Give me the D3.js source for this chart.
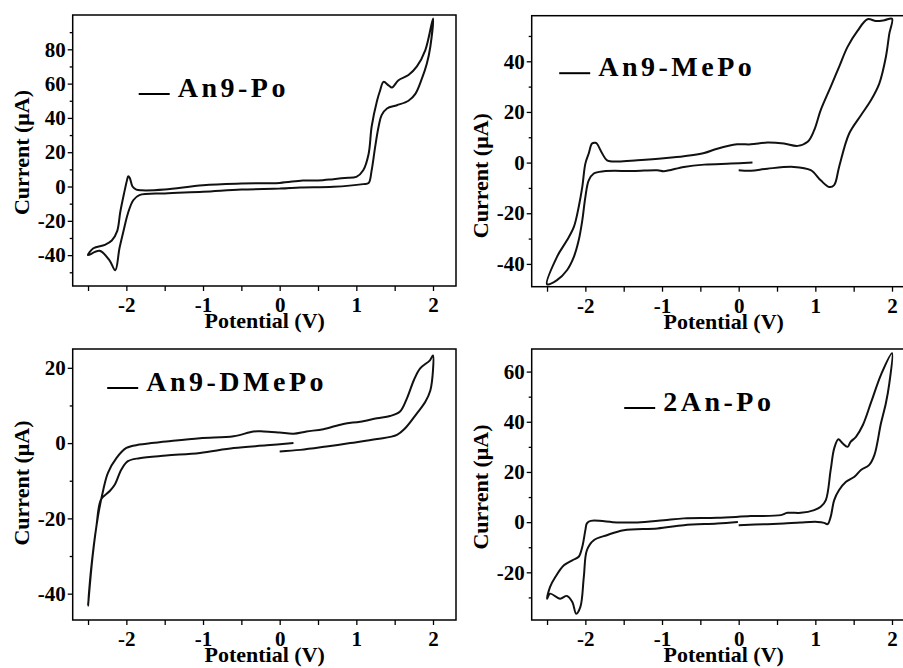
<!DOCTYPE html>
<html>
<head>
<meta charset="utf-8">
<script src="https://cdnjs.cloudflare.com/ajax/libs/d3/7.8.5/d3.min.js"></script>
<style>
  body { margin: 0; background: #fff; }
  svg { display: block; }
  .tick text { font-family: "Liberation Serif", "Times New Roman", serif; font-weight: bold; font-size: 21px; fill: #000; }
  .axisText { font-family: "Liberation Serif", "Times New Roman", serif; font-weight: bold; font-size: 22px; fill: #000; }
  .legendText { font-family: "Liberation Serif", "Times New Roman", serif; font-weight: bold; font-size: 28px; letter-spacing: 3.5px; fill: #000; }
</style>
</head>
<body>
<div id="chart"></div>
<script>
// ---- data (scan order: potential in V, current in uA) ----
var xTicks = [-2.5, -2, -1.5, -1, -0.5, 0, 0.5, 1, 1.5, 2];
var xLabels = [-2, -1, 0, 1, 2];

// An9-Po
var an9PoV = [0.15, 0, -0.5, -1, -1.5, -1.83, -1.91, -1.98, -2.035, -2.09, -2.145, -2.22, -2.35, -2.5,
  -2.43, -2.28, -2.19, -2.12, -2.08, -2.03, -1.99, -1.975, -1.955, -1.92, -1.87, -1.8, -1.5, -1, -0.5, 0, 0.3, 0.5, 0.7, 0.85, 1.0,
  1.09, 1.16, 1.2, 1.27, 1.31, 1.355, 1.42, 1.465, 1.55, 1.68, 1.79, 1.9, 2.0,
  1.965, 1.92, 1.856, 1.77, 1.68, 1.53, 1.4, 1.33, 1.29, 1.245, 1.2, 1.16, 1.09, 0.7, 0.27, 0.0];
var an9PoI = [-0.8, -1.2, -1.8, -3.1, -4, -5, -8, -15.7, -25.5, -36, -48.8, -43, -37.5, -40,
  -36, -34, -31.5, -26, -15, -4, 4, 6, 5, 0, -1.8, -2.2, -1.75, 0.8, 1.75, 2.1, 3.5, 3.5, 4.3, 5, 5.6,
  9.5, 19, 35, 50, 56, 61, 59, 57.7, 62, 65, 70, 79.5, 98,
  81.5, 71.7, 63, 54, 50, 47.4, 45.5, 41.6, 34.8, 23, 9.5, 2, 1.4, -0.2, -0.6, -1.2];
var an9PoTicks = [-50, -40, -30, -20, -10, 0, 10, 20, 30, 40, 50, 60, 70, 80, 90];

// An9-MePo
var an9MePoV = [0, 0.16, 0.375, 0.72, 0.94, 1.07, 1.18, 1.245, 1.31, 1.44, 1.595, 1.725, 1.834, 1.92, 1.965, 2.0,
  1.9, 1.79, 1.68, 1.55, 1.42, 1.31, 1.2, 1.07, 0.985, 0.9, 0.77, 0.59, 0.375, 0.157, -0.02, -0.28, -0.45, -0.715, -0.976,
  -1.32, -1.586, -1.717, -1.78, -1.85, -1.87, -1.913, -1.956, -2.0, -2.04, -2.087, -2.15, -2.24, -2.37, -2.5,
  -2.37, -2.24, -2.15, -2.087, -2.04, -2.0, -1.956, -1.89, -1.76, -1.37, -1.06, -0.976, -0.715, -0.45, -0.1, 0.18];
var an9MePoI = [-3, -3.2, -2.4, -1.7, -3, -7, -9.6, -8.9, -1.7, 11.4, 18.7, 24.6, 31.2, 41.7, 50.9, 56.8,
  56.2, 55.9, 56.6, 52, 45.7, 37.8, 29.9, 20.7, 12.8, 8.2, 6.6, 7.5, 7.9, 7.2, 7.2, 5.5, 3.8, 2.5, 1.7,
  0.9, 0.4, 0.9, 3.6, 7.5, 7.8, 7.5, 3.6, -0.4, -9.6, -17.5, -25.4, -30.7, -37.2, -48,
  -46.4, -42.5, -37.2, -30.7, -22.8, -13.6, -7, -4.3, -3.4, -3.3, -3, -3.4, -1.7, -0.8, -0.4, 0];
var an9MePoTicks = [-40, -30, -20, -10, 0, 10, 20, 30, 40, 50];

// An9-DMePo
var an9DMePoV = [0, 0.27, 0.61, 0.92, 1.27, 1.53, 1.64, 1.79, 1.9, 1.965, 2.0, 2.0,
  1.96, 1.83, 1.75, 1.66, 1.57, 1.44, 1.27, 1.05, 0.83, 0.57, 0.35, 0.18, 0, -0.21, -0.34, -0.6, -1.04, -1.48, -1.83,
  -2.0, -2.13, -2.24, -2.3, -2.37, -2.44, -2.5,
  -2.46, -2.39, -2.33, -2.22, -2.15, -2.065, -1.98, -1.83, -1.48, -1.04, -0.6, -0.17, 0.18];
var an9DMePoI = [-2.2, -1.8, -0.9, 0, 1.06, 2.2, 4, 7.9, 11, 14, 19.4, 23.3,
  22, 19.8, 16.7, 11.9, 8.4, 7.2, 6.6, 5.7, 5.1, 3.7, 3.1, 2.5, 2.8, 3.1, 3.1, 1.8, 1.3, 0.4, -0.4,
  -1.3, -4, -7.9, -12.3, -19.4, -30, -43.2,
  -33.5, -22, -15, -12.8, -11, -7, -4.8, -4, -3.3, -2.6, -1.3, -0.6, 0];
var an9DMePoTicks = [-40, -30, -20, -10, 0, 10, 20];

// 2An-Po
var twoAnPoV = [0, 0.375, 0.59, 0.81, 1.03, 1.115, 1.16, 1.2, 1.246, 1.31, 1.4, 1.51, 1.595, 1.7, 1.77, 1.856, 1.92, 1.965, 2.0,
  1.86, 1.73, 1.62, 1.53, 1.46, 1.42, 1.355, 1.3, 1.246, 1.2, 1.137, 1.07, 0.985, 0.81, 0.636, 0.55, 0.157, -0.28, -0.715, -0.976,
  -1.32, -1.586, -1.93, -1.98, -2.0, -2.04, -2.087, -2.17, -2.28, -2.39, -2.46, -2.5,
  -2.46, -2.33, -2.24, -2.17, -2.12, -2.065, -2.02, -1.98, -1.89, -1.72, -1.5, -1.06, -0.715, -0.28, -0.01];
var twoAnPoI = [-1.2, -0.8, -0.5, -0.1, 0.1, -0.3, -0.8, 2.1, 8.8, 12.8, 16.1, 18.1, 20.8, 22.7, 26.7, 39.4, 47.4, 55.3, 67.3,
  59, 48, 38.7, 34, 32, 30, 31.4, 33, 29.4, 20.8, 8.8, 6.1, 4.8, 3.7, 3.7, 2.8, 2.4, 1.7, 1.5, 0.8,
  -0.1, -0.1, 0.5, -0.5, -3.2, -9.8, -13.8, -15.2, -17.2, -21.8, -25.8, -30.5,
  -28.5, -30.5, -29.4, -31.8, -36.5, -33.8, -21.8, -11.2, -7.2, -5.2, -3.2, -2.5, -1.2, -0.5, 0.1];
var twoAnPoTicks = [-30, -20, -10, 0, 10, 20, 30, 40, 50, 60];

// ---- layout ----
var svg = d3.select("#chart")
  .append("svg")
  .attr("width", 903)
  .attr("height", 668);

var panels = [
  { name: "An9-Po", v: an9PoV, i: an9PoI, ticks: an9PoTicks, yDomain: [-58, 100],
    left: 72.7, top: 15, legX: 66, legY: 82, yLabelY: 137.5 },
  { name: "An9-MePo", v: an9MePoV, i: an9MePoI, ticks: an9MePoTicks, yDomain: [-49, 58],
    left: 531.7, top: 15.7, legX: 27.5, legY: 60.5, yLabelY: 160 },
  { name: "An9-DMePo", v: an9DMePoV, i: an9DMePoI, ticks: an9DMePoTicks, yDomain: [-47, 25],
    left: 72.7, top: 349, legX: 34.5, legY: 42, yLabelY: 134 },
  { name: "2An-Po", v: twoAnPoV, i: twoAnPoI, ticks: twoAnPoTicks, yDomain: [-39, 69],
    left: 531.7, top: 349, legX: 92.5, legY: 62, yLabelY: 138 }
];

var width = 383.3;
var height = 271;

panels.forEach(function(p) {
  var g = svg.append("g")
    .attr("transform", `translate(${p.left}, ${p.top})`);

  var xScale = d3.scaleLinear().domain([-2.7, 2.3]).range([0, width]);
  var yScale = d3.scaleLinear().domain(p.yDomain).range([height, 0]);

  // bottom axis, labels only on whole volts
  var xAxis = d3.axisBottom(xScale)
    .tickValues(xTicks)
    .tickSize(5)
    .tickPadding(6)
    .tickFormat(d => xLabels.indexOf(d) >= 0 ? String(d) : "");

  var gx = g.append("g")
    .attr("transform", `translate(0, ${height})`)
    .call(xAxis);

  // left axis, labels every 20
  var yAxis = d3.axisLeft(yScale)
    .tickValues(p.ticks)
    .tickSize(5)
    .tickPadding(2)
    .tickFormat(d => d % 20 === 0 ? String(d) : "");

  var gy = g.append("g").call(yAxis);
  gy.selectAll(".tick line")
    .attr("x2", d => d % 20 === 0 ? -5 : -3);

  [gx, gy].forEach(function(a) {
    a.select(".domain").remove();
    a.selectAll(".tick line").attr("stroke", "#000").attr("stroke-width", 1.3);
    a.selectAll("text").attr("font-family", null).attr("font-size", null);
  });

  // frame
  g.append("rect")
    .attr("width", width)
    .attr("height", height)
    .attr("fill", "none")
    .attr("stroke", "#000")
    .attr("stroke-width", 1.5);

  // the CV trace
  var pts = p.v.map((v, k) => [v, p.i[k]]);
  var line = d3.line()
    .x(d => xScale(d[0]))
    .y(d => yScale(d[1]))
    .curve(d3.curveCatmullRom.alpha(0.5));

  g.append("path")
    .datum(pts)
    .attr("d", line)
    .attr("fill", "none")
    .attr("stroke", "#111")
    .attr("stroke-width", 2)
    .attr("stroke-linejoin", "round");

  // legend
  g.append("line")
    .attr("x1", p.legX)
    .attr("x2", p.legX + 31)
    .attr("y1", p.legY - 3)
    .attr("y2", p.legY - 3)
    .attr("stroke", "#000")
    .attr("stroke-width", 2);

  g.append("text")
    .attr("class", "legendText")
    .attr("x", p.legX + 39)
    .attr("y", p.legY)
    .text(p.name);

  // axis labels
  g.append("text")
    .attr("class", "axisText")
    .attr("text-anchor", "middle")
    .attr("x", 192)
    .attr("y", height + 42)
    .text("Potential (V)");

  g.append("text")
    .attr("class", "axisText")
    .attr("text-anchor", "middle")
    .attr("transform", `translate(-44, ${p.yLabelY}) rotate(-90)`)
    .text("Current (\u03bcA)");
});
</script>
</body>
</html>
